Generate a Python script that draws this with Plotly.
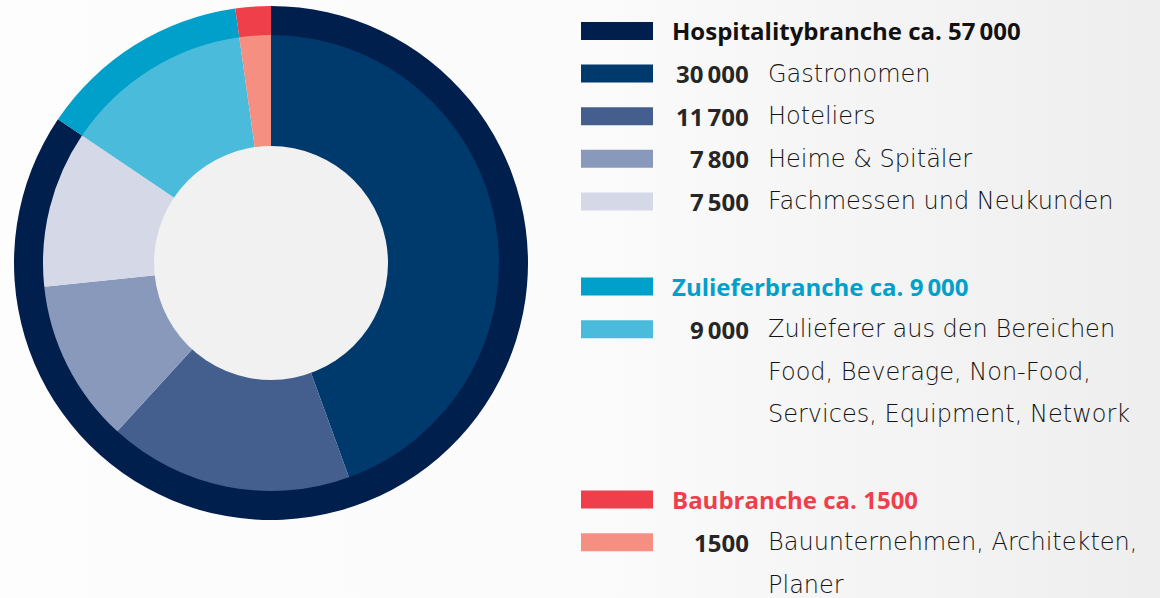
import plotly.graph_objects as go

# Branchen (outer ring) and their subgroups (inner ring), clockwise from 12 o'clock
branch_names = ["Hospitalitybranche", "Zulieferbranche", "Baubranche"]
branch_values = [57000, 9000, 1500]
branch_titles = ["Hospitalitybranche ca. 57\u2009000", "Zulieferbranche ca. 9\u2009000", "Baubranche ca. 1500"]
branch_colors = ["#001f4d", "#00a0ca", "#ee3f4b"]
branch_text_colors = ["#111111", "#00a0ca", "#ee3f4b"]

sub_names = ["Gastronomen", "Hoteliers", "Heime & Spitäler", "Fachmessen und Neukunden",
             "Zulieferer", "Bauunternehmen"]
sub_values = [30000, 11700, 7800, 7500, 9000, 1500]
sub_labels = ["30\u2009000", "11\u2009700", "7\u2009800", "7\u2009500", "9\u2009000", "1500"]
sub_lines = [
    ["Gastronomen"],
    ["Hoteliers"],
    ["Heime & Spitäler"],
    ["Fachmessen und Neukunden"],
    ["Zulieferer aus den Bereichen", "Food, Beverage, Non-Food,", "Services, Equipment, Network"],
    ["Bauunternehmen, Architekten,", "Planer"],
]
sub_branch = [0, 0, 0, 0, 1, 2]
sub_colors = ["#003a6c", "#445f8d", "#8999bb", "#d5d9e7", "#4abbda", "#f58f82"]

W, H = 1160, 598
BOLD_FONT = "'Open Sans', Lato, sans-serif"
LIGHT_FONT = "'DejaVu Sans', 'Open Sans', sans-serif"
TEXT = "#262626"
LIGHT_TEXT = "#141414"


def px_domain(cx, cy, r):
    return dict(x=[(cx - r) / W, (cx + r) / W], y=[1 - (cy + r) / H, 1 - (cy - r) / H])


CX, CY = 271, 263

fig = go.Figure()
fig.add_trace(go.Pie(
    labels=branch_names, values=branch_values, sort=False, direction="clockwise", rotation=0,
    hole=0.883, domain=px_domain(CX, CY, 257), textinfo="none", hoverinfo="label+value",
    marker=dict(colors=branch_colors, line=dict(width=0)), showlegend=False,
))
fig.add_trace(go.Pie(
    labels=sub_names, values=sub_values, sort=False, direction="clockwise", rotation=0,
    hole=0.5, domain=px_domain(CX, CY, 228), textinfo="none", hoverinfo="label+value",
    marker=dict(colors=sub_colors, line=dict(width=0)), showlegend=False,
))
# grey centre disk
fig.add_trace(go.Pie(
    labels=["center"], values=[1], domain=px_domain(CX, CY, 117), textinfo="none",
    hoverinfo="skip", marker=dict(colors=["#f1f1f1"], line=dict(width=0)), showlegend=False,
))

# hand-built legend on the right
shapes, annotations = [], []
SW_X0, SW_X1, NUM_X, DESC_X = 581, 653, 751, 766
LINE = 42.6


def add_swatch(y, color):
    shapes.append(dict(type="rect", xref="paper", yref="paper", x0=SW_X0 / W, x1=SW_X1 / W,
                       y0=1 - (y + 9) / H, y1=1 - (y - 9) / H, fillcolor=color, line=dict(width=0)))


def add_text(x, y, text, color, family, size, weight, anchor):
    annotations.append(dict(xref="paper", yref="paper", x=x / W, y=1 - y / H, text=text,
                            showarrow=False, xanchor=anchor, yanchor="middle",
                            font=dict(family=family, size=size, color=color, weight=weight)))


y = 31
for b in range(len(branch_names)):
    add_swatch(y, branch_colors[b])
    add_text(670, y, branch_titles[b], branch_text_colors[b], BOLD_FONT, 24, 700, "left")
    y += LINE
    for i in range(len(sub_names)):
        if sub_branch[i] != b:
            continue
        add_swatch(y, sub_colors[i])
        add_text(NUM_X, y, sub_labels[i], TEXT, BOLD_FONT, 24, 700, "right")
        for line in sub_lines[i]:
            add_text(DESC_X, y, line, LIGHT_TEXT, LIGHT_FONT, 24, 300, "left")
            y += LINE
    y += LINE

bg_svg = ("data:image/svg+xml;utf8,<svg xmlns='http://www.w3.org/2000/svg' width='100' height='100' "
          "preserveAspectRatio='none'><defs><linearGradient id='g' x1='0' y1='0' x2='1' y2='0'>"
          "<stop offset='0' stop-color='%23fdfdfd'/><stop offset='0.5' stop-color='%23fbfbfb'/>"
          "<stop offset='1' stop-color='%23eeeeee'/></linearGradient></defs>"
          "<rect width='100' height='100' fill='url(%23g)'/></svg>")

fig.update_layout(
    width=W, height=H,
    margin=dict(l=0, r=0, t=0, b=0),
    paper_bgcolor="#f8f8f8",
    plot_bgcolor="rgba(0,0,0,0)",
    shapes=shapes,
    annotations=annotations,
    images=[dict(source=bg_svg, xref="paper", yref="paper", x=0, y=1, sizex=1, sizey=1,
                 xanchor="left", yanchor="top", sizing="stretch", layer="below")],
    showlegend=False,
)

# drop the browser's default body margin so the figure sits flush in the window
fig.write_html("out.html", config={"displayModeBar": False},
               post_script="document.body.style.margin='0';")
